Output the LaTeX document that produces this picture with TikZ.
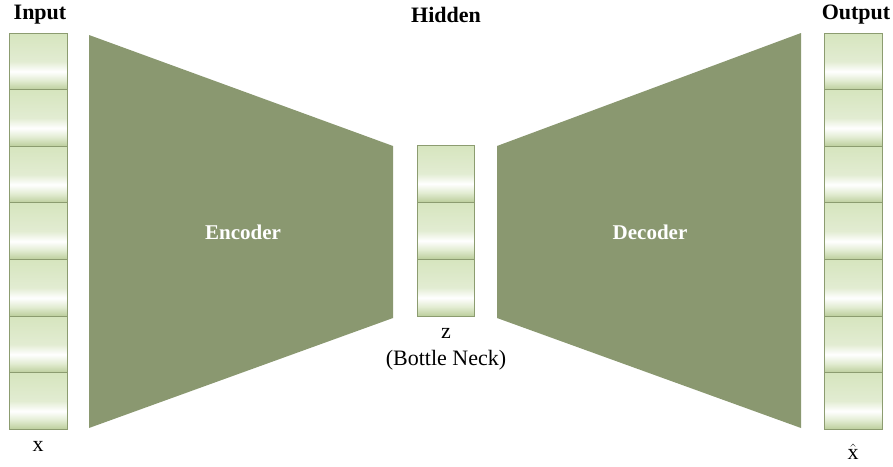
\documentclass[tikz,border=0pt]{standalone}
\usepackage{fontspec}
\setmainfont{Liberation Serif}
\definecolor{olive}{RGB}{138,152,112}
\definecolor{cellborder}{RGB}{140,156,112}
\definecolor{cellT}{RGB}{214,229,190}
\definecolor{cellM}{RGB}{226,236,210}
\definecolor{cellB}{RGB}{188,206,156}
\pgfdeclareverticalshading{cellshade}{100bp}{color(0bp)=(cellB); color(25bp)=(cellB); color(33bp)=(cellM); color(41bp)=(white); color(50bp)=(cellM); color(75bp)=(cellT); color(100bp)=(cellT)}
\begin{document}
\begin{tikzpicture}[x=1pt,y=-1pt,
  cell/.style={draw=cellborder, line width=1pt, shading=cellshade, minimum width=58pt, minimum height=56.6pt, inner sep=0pt, outer sep=0pt},
  title/.style={font=\bfseries\fontsize{22}{25}\selectfont, text=black},
  lbl/.style={font=\fontsize{22}{25}\selectfont, text=black},
  blocklbl/.style={font=\bfseries\fontsize{21}{24}\selectfont, text=white}]
\useasboundingbox (0,0) rectangle (893,466);
% encoder / decoder trapezoids
\fill[olive] (89,35) -- (393,146) -- (393,318) -- (89,428) -- cycle;
\fill[olive] (497,146) -- (801,33) -- (801,428) -- (497,318) -- cycle;
% columns
\foreach \i in {1,...,7} {
  \node[cell] (in\i) at (38,{33+56.6*(\i-0.5)}) {};
  \node[cell] (out\i) at (853,{33+56.6*(\i-0.5)}) {};
}
\foreach \i in {1,...,3} {
  \node[cell, minimum width=57pt, minimum height=57pt] (z\i) at (445.5,{145+57*(\i-0.5)}) {};
}
% titles
\node[title] (tin) at (40,15) {Input};
\node[title] (thid) at (446,15) {Hidden};
\node[title] (tout) at (856,15) {Output};
% block labels
\node[blocklbl] (enc) at (243,232) {Encoder};
\node[blocklbl] (dec) at (650,232) {Decoder};
% bottom labels
\node[lbl] (x) at (38,446) {x};
\node[lbl] (z) at (446,333) {z};
\node[lbl] (bn) at (446,360) {(Bottle Neck)};
\node[lbl, inner sep=0pt] (xhat) at (853,452) {$\hat{\mbox{x}}$};
\end{tikzpicture}
\end{document}
